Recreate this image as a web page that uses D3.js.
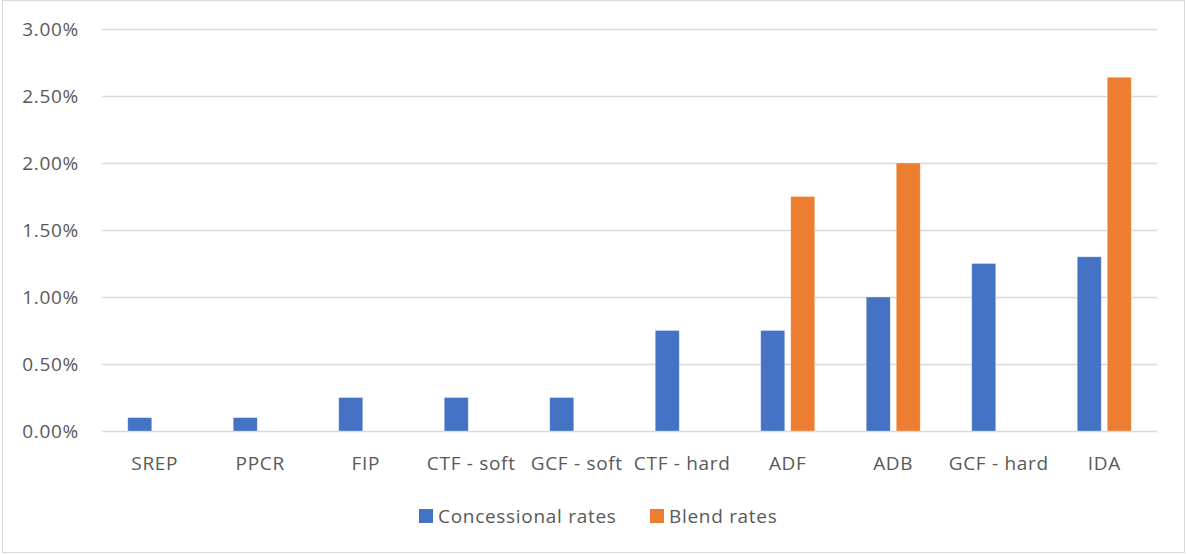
<!DOCTYPE html>
<html>
<head>
<meta charset="utf-8">
<script src="https://cdn.jsdelivr.net/npm/d3@7"></script>
<style>
  body { margin: 0; background: #fff; }
  svg { display: block; }
</style>
</head>
<body>
<div id="chart"></div>
<script>
const categories = ["SREP", "PPCR", "FIP", "CTF - soft", "GCF - soft", "CTF - hard", "ADF", "ADB", "GCF - hard", "IDA"];
const concessional = [0.001, 0.001, 0.0025, 0.0025, 0.0025, 0.0075, 0.0075, 0.01, 0.0125, 0.013];
const blend = [null, null, null, null, null, null, 0.0175, 0.02, null, 0.0264];
const yTicks = [0, 0.005, 0.01, 0.015, 0.02, 0.025, 0.03];
const seriesNames = ["Concessional rates", "Blend rates"];
const colors = ["#4472c4", "#ed7d31"];

const width = 1186, height = 554;
const margin = { top: 29, right: 29, bottom: 123, left: 102 };
const font = "Open Sans, Liberation Sans, sans-serif";
const fontSize = "19px";
const spacing = "0.7px";

const svg = d3.select("#chart").append("svg")
  .attr("width", width)
  .attr("height", height);

// outer chart border
svg.append("rect")
  .attr("x", 2.5).attr("y", 0.5)
  .attr("width", width - 4).attr("height", height - 2)
  .attr("fill", "#fff")
  .attr("stroke", "#d9d9d9");

const x = d3.scaleBand()
  .domain(categories)
  .range([margin.left, width - margin.right]);

const y = d3.scaleLinear()
  .domain([0, 0.03])
  .range([height - margin.bottom, margin.top]);

// gridlines
svg.append("g")
  .selectAll("line")
  .data(yTicks)
  .enter().append("line")
  .attr("x1", margin.left).attr("x2", width - margin.right)
  .attr("y1", d => Math.round(y(d)) + 0.5).attr("y2", d => Math.round(y(d)) + 0.5)
  .attr("stroke", "#d9d9d9")
  .attr("stroke-width", 1.3);

// y labels
const fmt = d3.format(".2%");
svg.append("g")
  .selectAll("text")
  .data(yTicks)
  .enter().append("text")
  .attr("x", 79)
  .attr("y", d => y(d))
  .attr("dy", "0.35em")
  .attr("text-anchor", "end")
  .attr("fill", "#595959")
  .style("font-family", font)
  .style("font-size", fontSize)
  .style("letter-spacing", spacing)
  .text(d => fmt(d));

// bars
const barW = 24, gap = 6;
const rows = categories.map((c, i) => ({ c, a: concessional[i], b: blend[i] }));
const bars = svg.append("g");
bars.selectAll("rect.con")
  .data(rows)
  .enter().append("rect")
  .attr("class", "con")
  .attr("x", d => x(d.c) + x.bandwidth() / 2 - barW - gap / 2)
  .attr("y", d => y(d.a))
  .attr("width", barW)
  .attr("height", d => y(0) - y(d.a))
  .attr("fill", colors[0])
  .attr("stroke", "#fff")
  .attr("stroke-opacity", 0.4)
  .attr("stroke-width", 0.75);
bars.selectAll("rect.bl")
  .data(rows.filter(d => d.b != null))
  .enter().append("rect")
  .attr("class", "bl")
  .attr("x", d => x(d.c) + x.bandwidth() / 2 + gap / 2)
  .attr("y", d => y(d.b))
  .attr("width", barW)
  .attr("height", d => y(0) - y(d.b))
  .attr("fill", colors[1])
  .attr("stroke", "#fff")
  .attr("stroke-opacity", 0.4)
  .attr("stroke-width", 0.75);

// x labels
svg.append("g")
  .selectAll("text")
  .data(categories)
  .enter().append("text")
  .attr("x", d => x(d) + x.bandwidth() / 2)
  .attr("y", 470)
  .attr("text-anchor", "middle")
  .attr("fill", "#595959")
  .style("font-family", font)
  .style("font-size", fontSize)
  .style("letter-spacing", spacing)
  .text(d => d);

// legend
const legendX = [419, 650];
const legend = svg.append("g");
const li = legend.selectAll("g")
  .data(seriesNames)
  .enter().append("g")
  .attr("transform", (d, i) => `translate(${legendX[i]},509)`);
li.append("rect")
  .attr("width", 14).attr("height", 14)
  .attr("fill", (d, i) => colors[i]);
li.append("text")
  .attr("x", 19)
  .attr("y", 14)
  .attr("fill", "#595959")
  .style("font-family", font)
  .style("font-size", fontSize)
  .style("letter-spacing", spacing)
  .text(d => d);
</script>
</body>
</html>
